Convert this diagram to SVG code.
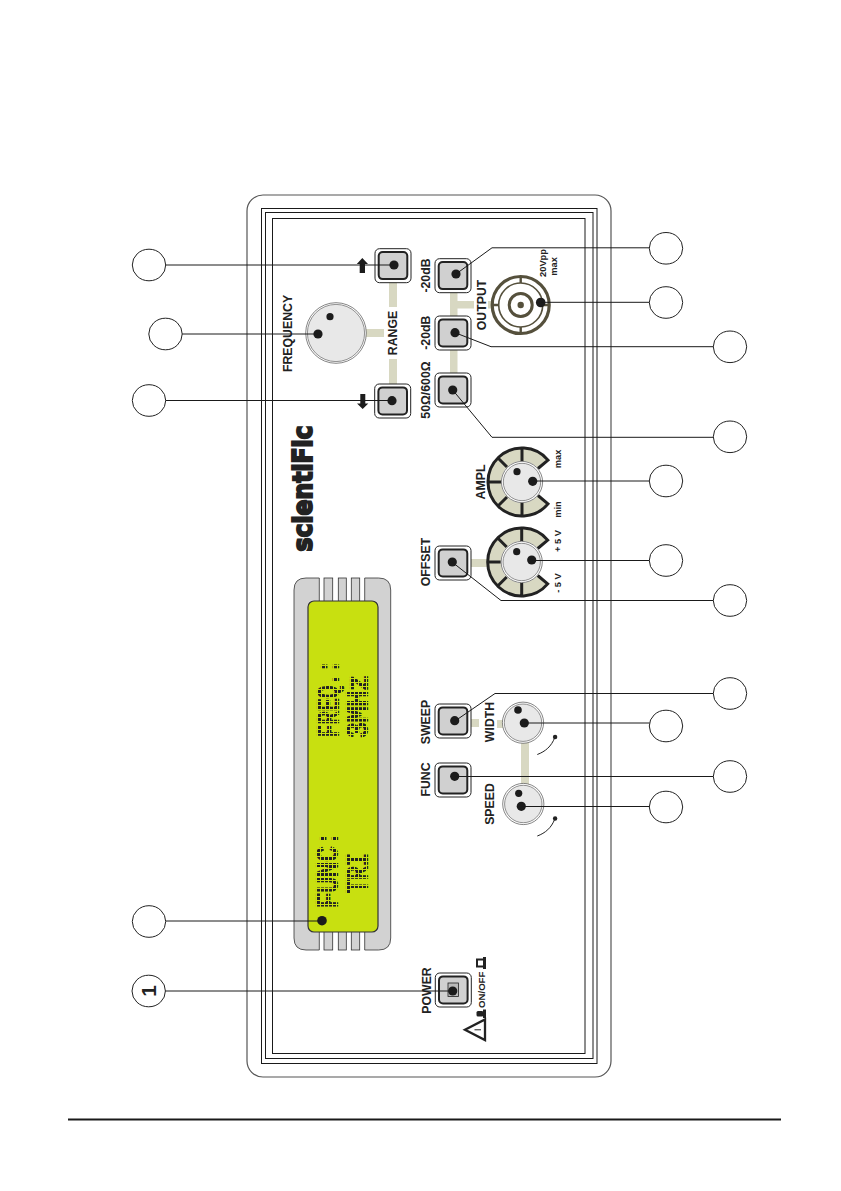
<svg xmlns="http://www.w3.org/2000/svg" xmlns:xlink="http://www.w3.org/1999/xlink" width="841" height="1191" viewBox="0 0 841 1191">
<style>
text{font-family:"Liberation Sans",Arial,sans-serif;font-weight:bold;fill:#222}
.l{font-size:12.3px;text-anchor:middle}
.s{font-size:9.3px;text-anchor:middle}
.frame{fill:none;stroke:#1a1a1a;stroke-width:1}
.bo{fill:#fff;stroke:#222;stroke-width:1}
.bi{fill:#d0d0d0;stroke:#222;stroke-width:2}
.dot{fill:#1c1c1c}
.c{fill:#fff;stroke:#222;stroke-width:1}
.lead{fill:none;stroke:#1a1a1a;stroke-width:1}
.link{fill:#d8d8c2;stroke:none}
.lcd{font-family:"Liberation Mono",monospace;font-weight:normal;font-size:29px;fill:url(#dots);stroke:url(#dots);stroke-width:1.9}
.rib{fill:#d2d2d2;stroke:#333;stroke-width:.8}
.tick{stroke:#222;stroke-width:3;fill:none}
.bnc{fill:none;stroke:#55503c}
</style>
<defs>
<pattern id="dots" width="4" height="4" patternUnits="userSpaceOnUse"><rect width="3" height="3" fill="#222"/></pattern>
<g id="btn"><rect class="bo" x="-18" y="-17" width="36" height="34" rx="4.5"/><rect class="bi" x="-14.3" y="-13.6" width="28.6" height="27" rx="4"/></g>
<g id="knob"><circle r="20.6" fill="#fff" stroke="#666" stroke-width=".8"/><circle r="18.7" fill="#e8e8e8" stroke="#666" stroke-width=".7"/></g>
<g id="dial"><path d="M26,-21.9A34,34 0 1 0 26,21.9L16,13.5A21,21 0 1 1 16,-13.5Z" fill="#d8d8c2"/><path class="tick" d="M16,-13.5L26,-21.9A34,34 0 1 0 26,21.9L16,13.5M0,-34V-21M-24,-24L-15,-15M-34,0H-21M-24,24L-15,15M0,34V21"/></g>
<g id="arc"><path d="M0,16C8,13 14,8 17.5,-1" fill="none" stroke="#222" stroke-width="1"/><circle cx="17.8" cy="-1.5" r="2.2" fill="#222"/></g>
</defs>
<g id="panel">
<rect x="247" y="195" width="364" height="882" rx="16" fill="#fff" stroke="#555" stroke-width="1.2"/>
<rect class="frame" x="261.5" y="208.5" width="335.5" height="855"/>
<rect class="frame" x="265.5" y="212.5" width="327.5" height="846"/>
<rect class="frame" x="272.5" y="218.5" width="312.5" height="835"/>
</g>
<g id="links">
<rect class="link" x="389" y="279" width="8" height="28"/>
<rect class="link" x="389" y="359" width="8" height="28"/>
<rect class="link" x="364" y="329" width="20" height="8"/>
<rect class="link" x="450" y="292" width="7.5" height="81"/>
<rect class="link" x="457" y="301" width="17" height="7.5"/>
<rect class="link" x="488" y="301" width="6" height="7.5"/>
<rect class="link" x="468" y="559" width="19" height="8"/>
<rect class="link" x="468" y="719" width="11" height="8"/>
<rect class="link" x="497" y="720" width="7" height="8"/>
<rect class="link" x="521" y="742" width="8" height="44"/>
</g>
<g id="logo"><text x="312" y="551.5" transform="rotate(-90 312 551.5)" font-size="27" style="font-family:'DejaVu Sans',sans-serif" textLength="126" lengthAdjust="spacingAndGlyphs" stroke="#222" stroke-width="2">scientiFic</text></g>
<g id="display">
<path class="rib" d="M319.3,578H306Q294,578 294,590V938Q294,950 306,950H319.3Z"/>
<rect class="rib" x="324" y="578" width="8.7" height="372"/>
<rect class="rib" x="338.3" y="578" width="8" height="372"/>
<rect class="rib" x="351.3" y="578" width="8.4" height="372"/>
<path class="rib" d="M364.7,578H378.7Q390.7,578 390.7,590V938Q390.7,950 378.7,950H364.7Z"/>
<rect x="308" y="601" width="70" height="331" rx="6" fill="#c8e010" stroke="#333" stroke-width="1.2"/>
<text class="lcd" transform="translate(337 908) rotate(-90)" textLength="77" lengthAdjust="spacingAndGlyphs">FUNC:</text>
<text class="lcd" transform="translate(367 893) rotate(-90)" textLength="40" lengthAdjust="spacingAndGlyphs">TRI</text>
<text class="lcd" transform="translate(338 737) rotate(-90)" textLength="77" lengthAdjust="spacingAndGlyphs">FREQ.:</text>
<text class="lcd" transform="translate(367 738) rotate(-90)" textLength="63" lengthAdjust="spacingAndGlyphs">3MHz</text>
</g>
<g id="btn-up"><use href="#btn" xlink:href="#btn" x="393" y="265.7"/><circle class="dot" cx="394" cy="265" r="4.6"/><path d="M362.3,258L368,264H365V273H359.7V264H356.8Z" fill="#1c1c1c"/></g>
<g id="btn-down"><use href="#btn" xlink:href="#btn" x="392.7" y="401"/><circle class="dot" cx="392" cy="400.7" r="4.6"/><path d="M362.7,409L368.3,403.5H365.3V394H360.3V403.5H357Z" fill="#1c1c1c"/></g>
<g id="knob-frequency"><circle cx="336" cy="333" r="30.3" fill="#fff" stroke="#666" stroke-width=".8"/><circle cx="336" cy="333" r="28.6" fill="#e8e8e8" stroke="#666" stroke-width=".7"/><circle class="dot" cx="318" cy="334" r="4.6"/><circle class="dot" cx="330" cy="316.7" r="3.6"/><text class="l" transform="translate(292 333.5) rotate(-90)">FREQUENCY</text></g>
<g id="label-range"><text class="l" transform="translate(397 333) rotate(-90)">RANGE</text></g>
<g id="btn-20db-a"><use href="#btn" xlink:href="#btn" x="453" y="275.7"/><circle class="dot" cx="456" cy="274" r="4.6"/><text class="l" transform="translate(429.5 275.5) rotate(-90)">-20dB</text></g>
<g id="btn-20db-b"><use href="#btn" xlink:href="#btn" x="453" y="333"/><circle class="dot" cx="455" cy="332.7" r="4.6"/><text class="l" transform="translate(429.5 332.7) rotate(-90)">-20dB</text></g>
<g id="btn-impedance"><use href="#btn" xlink:href="#btn" x="453" y="390"/><circle class="dot" cx="452.7" cy="390" r="4.6"/><text class="l" transform="translate(429.5 390) rotate(-90)">50Ω/600Ω</text></g>
<g id="bnc-output">
<circle class="bnc" cx="520.7" cy="305" r="28.5" stroke-width="3.2"/>
<circle class="bnc" cx="520.7" cy="305" r="22" stroke-width="1.6"/>
<circle class="bnc" cx="520.7" cy="305" r="11.5" stroke-width="3"/>
<circle cx="520.7" cy="305" r="3.2" fill="#55503c"/>
<path class="bnc" d="M520.7,276V283M520.7,327V334M492,305H499M542,305H549" stroke-width="2.4"/>
<circle class="dot" cx="540.7" cy="302.5" r="4.8"/>
<text class="l" transform="translate(486 305) rotate(-90)">OUTPUT</text>
<text class="s" transform="translate(545.5 263) rotate(-90)">20Vpp</text>
<text class="s" transform="translate(556.5 266.5) rotate(-90)">max</text>
</g>
<g id="knob-ampl"><use href="#dial" xlink:href="#dial" x="522" y="482"/><use href="#knob" xlink:href="#knob" x="522" y="482"/><circle class="dot" cx="517" cy="471.7" r="3.6"/><circle class="dot" cx="532.7" cy="481.3" r="4.6"/><text class="l" transform="translate(485 482) rotate(-90)">AMPL</text><text class="s" transform="translate(561 459) rotate(-90)">max</text><text class="s" transform="translate(561 509.5) rotate(-90)">min</text></g>
<g id="knob-offset"><use href="#dial" xlink:href="#dial" x="521.7" y="562"/><use href="#knob" xlink:href="#knob" x="521.7" y="562"/><circle class="dot" cx="516.7" cy="551.7" r="3.6"/><circle class="dot" cx="531.7" cy="560" r="4.6"/><text class="s" transform="translate(561 541) rotate(-90)">+ 5 V</text><text class="s" transform="translate(561 583) rotate(-90)">- 5 V</text></g>
<g id="btn-offset"><use href="#btn" xlink:href="#btn" x="453" y="563"/><circle class="dot" cx="452.3" cy="562" r="4.6"/><text class="l" transform="translate(430 562) rotate(-90)">OFFSET</text></g>
<g id="btn-sweep"><use href="#btn" xlink:href="#btn" x="453" y="721"/><circle class="dot" cx="454.7" cy="720.7" r="4.6"/><text class="l" transform="translate(430 722) rotate(-90)">SWEEP</text></g>
<g id="btn-func"><use href="#btn" xlink:href="#btn" x="453" y="780"/><circle class="dot" cx="454.7" cy="776.3" r="4.6"/><text class="l" transform="translate(430 779.5) rotate(-90)">FUNC</text></g>
<g id="knob-width"><use href="#knob" xlink:href="#knob" x="523" y="722.7"/><circle class="dot" cx="518" cy="710" r="3.8"/><circle class="dot" cx="524.3" cy="723" r="4.6"/><text class="l" transform="translate(494 722) rotate(-90)">WIDTH</text><use href="#arc" xlink:href="#arc" x="537.3" y="738.5"/></g>
<g id="knob-speed"><use href="#knob" xlink:href="#knob" x="523.3" y="804"/><circle class="dot" cx="518.7" cy="793.3" r="3.6"/><circle class="dot" cx="521.3" cy="806.3" r="4.6"/><text class="l" transform="translate(494 804) rotate(-90)">SPEED</text><use href="#arc" xlink:href="#arc" x="537.3" y="820"/></g>
<g id="lcd-point"><circle class="dot" cx="322" cy="920.7" r="4.8"/></g>
<g id="btn-power"><use href="#btn" xlink:href="#btn" x="453.3" y="990"/><rect x="448" y="983" width="10.5" height="13.5" fill="#bbb" stroke="#222" stroke-width=".8"/><circle class="dot" cx="452.7" cy="991" r="4.6"/><text class="l" transform="translate(430.5 990.5) rotate(-90)">POWER</text>
<text class="s" style="font-size:9.6px" transform="translate(485.3 989.8) rotate(-90)">ON/OFF</text>
<path d="M484,959.5H477V966.5H484" fill="none" stroke="#222" stroke-width="2"/><rect x="483" y="957" width="3" height="12" fill="#222"/>
<rect x="483" y="1009.5" width="3" height="8.5" fill="#222"/><rect x="476.5" y="1011" width="7" height="5.5" rx="1.5" fill="#222"/>
<path d="M485,1019.5V1040L465,1029.8Z" fill="none" stroke="#222" stroke-width="2.3" stroke-linejoin="miter"/><path d="M474.5,1029.8H481" stroke="#222" stroke-width="1" fill="none"/></g>
<g id="connectors">
<path class="lead" d="M165,265H394"/>
<path class="lead" d="M182,334H318"/>
<path class="lead" d="M165,400.5H392"/>
<path class="lead" d="M165,921H322"/>
<path class="lead" d="M165,991H453"/>
<path class="lead" d="M456,274L492,247.8H650"/>
<path class="lead" d="M541,302.3H650"/>
<path class="lead" d="M455,332.7L491,346.7H714"/>
<path class="lead" d="M452.7,390L492,437.3H714"/>
<path class="lead" d="M533,481H650"/>
<path class="lead" d="M532,560.5H650"/>
<path class="lead" d="M452,562L501,600.5H714"/>
<path class="lead" d="M455,721L495,693.5H714"/>
<path class="lead" d="M524,723H650"/>
<path class="lead" d="M455,776.5H714"/>
<path class="lead" d="M521,806.5H650"/>
</g>
<g id="callout-l1"><ellipse class="c" cx="149" cy="265" rx="16.7" ry="15.8"/></g>
<g id="callout-l2"><ellipse class="c" cx="165.5" cy="334" rx="16.7" ry="15.8"/></g>
<g id="callout-l3"><ellipse class="c" cx="149" cy="400.5" rx="16.7" ry="15.8"/></g>
<g id="callout-l4"><ellipse class="c" cx="149" cy="921.5" rx="16.7" ry="15.8"/></g>
<g id="callout-1"><ellipse class="c" cx="148.7" cy="991" rx="16.7" ry="15.8"/><text transform="translate(156 991) rotate(-90)" font-size="21" text-anchor="middle">1</text></g>
<g id="callout-r1"><ellipse class="c" cx="666" cy="248.3" rx="16.7" ry="15.8"/></g>
<g id="callout-r2"><ellipse class="c" cx="666" cy="302.5" rx="16.7" ry="15.8"/></g>
<g id="callout-r3"><ellipse class="c" cx="730" cy="346.8" rx="16.7" ry="15.8"/></g>
<g id="callout-r4"><ellipse class="c" cx="730" cy="436.8" rx="16.7" ry="15.8"/></g>
<g id="callout-r5"><ellipse class="c" cx="666" cy="481" rx="16.7" ry="15.8"/></g>
<g id="callout-r6"><ellipse class="c" cx="666" cy="560.5" rx="16.7" ry="15.8"/></g>
<g id="callout-r7"><ellipse class="c" cx="730" cy="600.5" rx="16.7" ry="15.8"/></g>
<g id="callout-r8"><ellipse class="c" cx="730" cy="693.5" rx="16.7" ry="15.8"/></g>
<g id="callout-r9"><ellipse class="c" cx="666" cy="726" rx="16.7" ry="15.8"/></g>
<g id="callout-r10"><ellipse class="c" cx="730" cy="776.5" rx="16.7" ry="15.8"/></g>
<g id="callout-r11"><ellipse class="c" cx="666" cy="807" rx="16.7" ry="15.8"/></g>
<g id="footer"><path d="M68,1119.5H781" stroke="#1a1a1a" stroke-width="2" fill="none"/></g>
</svg>
